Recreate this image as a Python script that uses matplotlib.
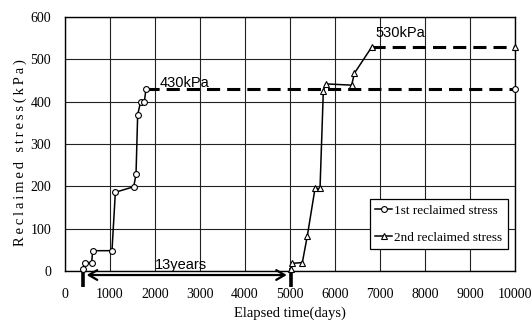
import matplotlib
matplotlib.use("Agg")
import matplotlib.pyplot as plt

# Data
t1 = [400, 444, 593, 615, 1044, 1119, 1526, 1578, 1615, 1681, 1763, 1800]
s1 = [5, 20, 20, 48, 48, 186, 199, 228, 369, 400, 400, 430]
t1_end = [1800, 10000]
s1_end = [430, 430]

t2 = [5015, 5050, 5274, 5385, 5556, 5667, 5741, 5793, 6370, 6430, 6822]
s2 = [5, 18, 20, 83, 195, 195, 426, 442, 439, 467, 530]
t2_end = [6822, 10000]
s2_end = [530, 530]

xticks = list(range(0, 10001, 1000))
yticks = list(range(0, 601, 100))

serif = "Liberation Serif"
sans = "Liberation Sans"

W, H = 531, 320
fig = plt.figure(figsize=(W / 100, H / 100), dpi=100)
ax = fig.add_axes([65 / W, 1 - 271 / H, 450 / W, 254 / H])

ax.set_xlim(0, 10000)
ax.set_ylim(0, 600)
ax.set_xticks(xticks)
ax.set_yticks(yticks)
ax.grid(True, color="#222222", linewidth=0.8)
ax.set_axisbelow(True)
ax.tick_params(length=0, labelsize=10)
ax.tick_params(axis="y", pad=10)
ax.tick_params(axis="x", pad=12)
for lbl in ax.get_xticklabels() + ax.get_yticklabels():
    lbl.set_fontfamily(serif)
for sp in ax.spines.values():
    sp.set_linewidth(1.0)
    sp.set_color("black")

mk = dict(markerfacecolor="white", markeredgecolor="black", markeredgewidth=0.8)

ax.plot(t1_end, s1_end, color="black", linestyle=(0, (4.3, 2.3)), linewidth=2.2, zorder=3)
ax.plot(t2_end, s2_end, color="black", linestyle=(0, (4.3, 2.3)), linewidth=2.2, zorder=3)
ax.plot([t1_end[-1]], [s1_end[-1]], marker="o", markersize=4.2, linestyle="none", clip_on=False, zorder=5, **mk)
ax.plot([t2_end[-1]], [s2_end[-1]], marker="^", markersize=4.8, linestyle="none", clip_on=False, zorder=5, **mk)

ax.plot(t1, s1, color="black", linewidth=1.1, marker="o", markersize=4.2, clip_on=False, zorder=4,
        label="1st reclaimed stress", **mk)
ax.plot(t2, s2, color="black", linewidth=1.1, marker="^", markersize=4.8, clip_on=False, zorder=4,
        label="2nd reclaimed stress", **mk)

# 13 years arrow
ax.annotate("", xy=(420, -9.5), xytext=(4990, -9.5),
            arrowprops=dict(arrowstyle="<->,head_length=0.6,head_width=0.35", color="black", lw=1.6),
            annotation_clip=False)
ax.plot([400, 400], [7, -38], color="black", linewidth=2.6, clip_on=False, solid_capstyle="butt")
ax.plot([5030, 5030], [7, -38], color="black", linewidth=2.6, clip_on=False, solid_capstyle="butt")
ax.text(2000, -3, "13years", fontfamily=sans, fontsize=10.5, ha="left", va="bottom")

ax.text(2100, 445, "430kPa", fontfamily=sans, fontsize=10.5, ha="left", va="center")
ax.text(6900, 562, "530kPa", fontfamily=sans, fontsize=10.5, ha="left", va="center")

fig.text(290 / W, 1 - 313 / H, "Elapsed time(days)", fontfamily=serif, fontsize=10.5,
         ha="center", va="center")
ylab = "\u2009".join("Reclaimed") + "\u2009 \u2009" + "\u2009".join("stress(kPa)")
fig.text(20 / W, 1 - 153 / H, ylab, fontfamily=[serif, "DejaVu Serif"],
         fontsize=10.5, rotation=90, ha="center", va="center")

leg = ax.legend(loc="lower left", bbox_to_anchor=((370 - 65) / 450, (271 - 249) / 254),
                prop={"family": serif, "size": 9.5},
                frameon=True, fancybox=False, edgecolor="black", framealpha=1,
                handlelength=1.3, handletextpad=0.15, borderpad=0.4, labelspacing=1.1,
                borderaxespad=0)
leg.get_frame().set_linewidth(0.9)

fig.savefig("out.png", dpi=100)
